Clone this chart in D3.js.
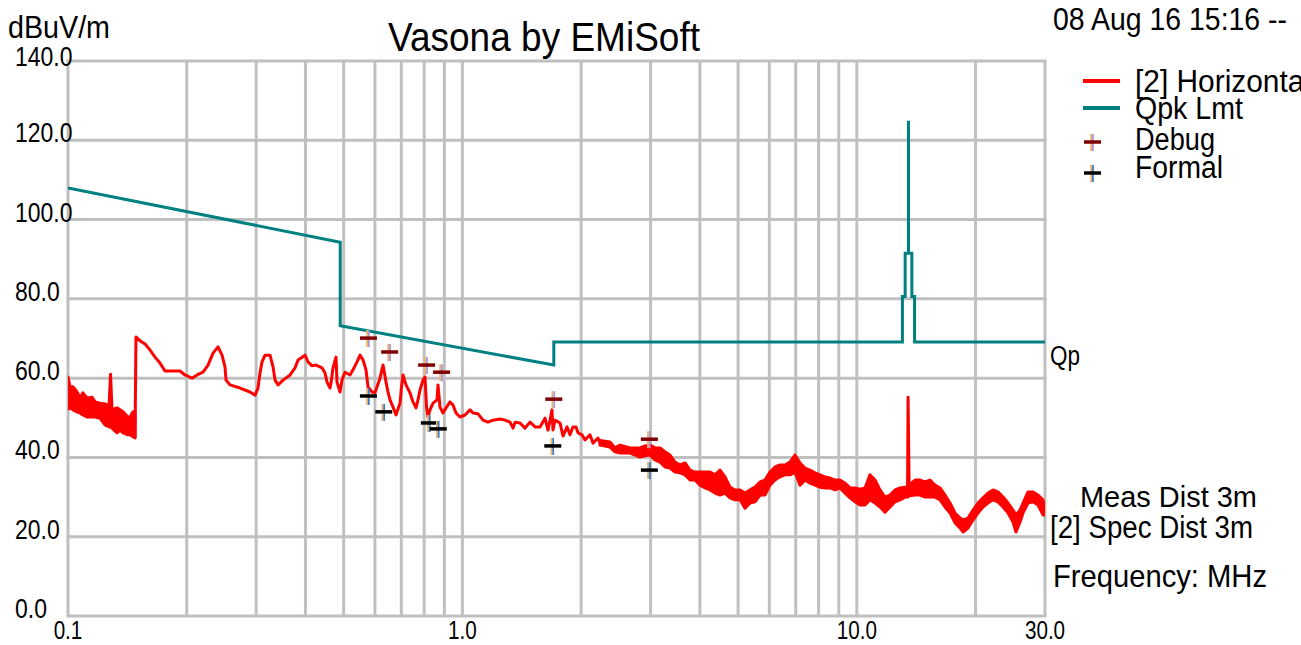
<!DOCTYPE html>
<html lang="en">
<head>
<meta charset="UTF-8" />
<title>Vasona by EMiSoft</title>
<script src="https://d3js.org/d3.v7.min.js"></script>
<style>
  * { margin: 0; padding: 0; }
  body { background: #fff; overflow: hidden; }
  svg { display: block; font-family: 'Liberation Sans', Arial, sans-serif; }
</style>
</head>
<body>
<svg id="chart" width="1301" height="645"></svg>
<script>
  // ---- data (MHz / dBuV/m) ----
  // 0.10 - 0.148 MHz : dense noise band, upper and lower envelope
  const lowBandFreq = [0.100, 0.1012, 0.1030, 0.1054, 0.1073, 0.1091, 0.1117, 0.1150, 0.1171, 0.1205,
                       0.1241, 0.1271, 0.1282, 0.1293, 0.1331, 0.1355, 0.1379, 0.1419, 0.1436, 0.1462,
                       0.1479];
  const lowBandHi = [60.3, 57.8, 57.8, 56.5, 55.0, 56.3, 55.0, 55.2, 54.0, 53.7,
                     53.5, 53.0, 61.0, 52.0, 52.5, 52.0, 51.5, 50.2, 50.2, 51.5,
                     51.5];
  const lowBandLo = [52.2, 52.5, 52.0, 51.5, 51.2, 50.7, 50.2, 50.2, 50.2, 49.9,
                     48.2, 47.7, 47.7, 47.4, 46.2, 46.9, 46.2, 45.7, 45.7, 45.2,
                     44.9];

  // 0.148 - 2.2 MHz : single trace
  const midFreq = [0.1479, 0.1487, 0.1523, 0.1568, 0.1614, 0.1662, 0.1711, 0.1762, 0.1923, 0.1980,
                   0.2063, 0.2124, 0.2199, 0.2265, 0.2332, 0.2401, 0.2458, 0.2501, 0.2516, 0.2575,
                   0.2730, 0.2894, 0.2980, 0.3032, 0.3068, 0.3104, 0.3159, 0.3253, 0.3311, 0.3349,
                   0.3409, 0.3510, 0.3656, 0.3765, 0.3831, 0.3990, 0.4060, 0.4156, 0.4255, 0.4406,
                   0.4484, 0.4537, 0.4617, 0.4644, 0.4698, 0.4781, 0.4809, 0.4894, 0.4951, 0.5039,
                   0.5188, 0.5280, 0.5405, 0.5500, 0.5598, 0.5696, 0.5763, 0.5899, 0.6003, 0.6181,
                   0.6291, 0.6402, 0.6477, 0.6553, 0.6669, 0.6787, 0.6947, 0.7008, 0.7070, 0.7194,
                   0.7365, 0.7494, 0.7627, 0.7716, 0.7807, 0.7945, 0.8039, 0.8110, 0.8181, 0.8276,
                   0.8423, 0.8622, 0.8673, 0.8775, 0.8930, 0.9088, 0.9302, 0.9467, 0.9634, 0.9860,
                   1.0153, 1.0454, 1.0638, 1.0955, 1.128, 1.161, 1.196, 1.245, 1.282, 1.320,
                   1.344, 1.360, 1.400, 1.441, 1.484, 1.528, 1.573, 1.620, 1.648, 1.668,
                   1.687, 1.697, 1.717, 1.768, 1.799, 1.842, 1.874, 1.907, 1.941, 1.964,
                   2.010, 2.046, 2.106, 2.144, 2.207, 2.233];
  const midLevel = [44.9, 70.4, 69.4, 68.6, 67.1, 65.3, 63.8, 61.8, 61.8, 60.8,
                    60.0, 60.8, 61.5, 63.3, 66.3, 67.9, 65.8, 62.8, 59.5, 58.3,
                    57.5, 56.5, 55.7, 57.5, 61.3, 64.1, 65.8, 65.8, 62.8, 59.5,
                    58.3, 59.5, 60.8, 62.6, 64.6, 65.8, 64.1, 63.1, 63.3, 62.6,
                    61.3, 59.0, 57.5, 58.8, 62.6, 65.3, 59.0, 56.5, 59.5, 61.5,
                    60.8, 62.1, 64.1, 65.8, 64.6, 62.1, 57.8, 56.5, 56.3, 60.0,
                    63.3, 59.0, 56.5, 54.5, 52.7, 50.7, 53.7, 57.8, 60.8, 58.3,
                    56.3, 54.0, 52.5, 54.5, 57.0, 59.5, 60.3, 52.7, 50.2, 52.0,
                    53.7, 54.5, 58.3, 52.7, 51.2, 52.5, 54.0, 53.2, 51.2, 50.2,
                    50.7, 52.0, 51.2, 51.0, 49.4, 48.9, 49.4, 49.7, 49.4, 48.9,
                    47.4, 48.9, 48.7, 47.4, 48.9, 47.7, 47.7, 49.9, 46.9, 49.4,
                    52.0, 46.9, 49.4, 48.7, 45.4, 47.7, 45.7, 47.7, 47.7, 46.2,
                    45.7, 44.4, 45.7, 43.6, 44.9, 43.6];

  // 2.2 - 30 MHz : noise band, upper and lower envelope
  const highBandFreq = [2.233, 2.367, 2.437, 2.509, 2.661, 2.820, 2.904, 2.991, 3.078, 3.170,
                        3.264, 3.360, 3.460, 3.563, 3.668, 3.777, 3.889, 4.004, 4.122, 4.245,
                        4.370, 4.499, 4.633, 4.770, 4.911, 5.057, 5.206, 5.360, 5.519, 5.683,
                        5.850, 6.024, 6.202, 6.387, 6.575, 6.770, 6.970, 7.178, 7.389, 7.608,
                        7.834, 8.066, 8.306, 8.551, 8.805, 9.065, 9.335, 9.612, 9.894, 10.19,
                        10.49, 10.80, 11.12, 11.45, 11.79, 12.14, 12.50, 12.87, 13.25, 13.45,
                        13.49, 13.57, 14.05, 14.46, 14.89, 15.33, 15.79, 16.26, 16.73, 17.23,
                        17.74, 18.27, 18.59, 19.14, 19.71, 20.29, 20.89, 21.51, 22.15, 22.80,
                        23.48, 24.18, 24.89, 25.33, 25.93, 26.39, 27.17, 27.97, 28.80, 29.65,
                        30.0];
  const highBandHi = [44.3, 43.9, 42.4, 43.1, 42.4, 42.4, 42.9, 43.1, 42.4, 42.4,
                      41.4, 40.6, 38.8, 38.1, 38.6, 36.8, 36.3, 36.3, 36.3, 36.3,
                      35.6, 36.8, 35.1, 32.5, 31.8, 31.8, 31.0, 31.8, 32.5, 33.8,
                      34.3, 36.3, 37.6, 38.1, 38.1, 38.8, 40.6, 38.6, 37.3, 36.8,
                      36.1, 35.6, 35.1, 34.8, 34.3, 34.3, 33.5, 32.3, 32.3, 32.0,
                      32.3, 35.6, 34.3, 31.8, 30.0, 30.5, 31.8, 32.3, 32.5, 32.5,
                      55.2, 33.0, 34.3, 34.3, 33.8, 34.3, 33.0, 32.3, 30.5, 28.5,
                      26.0, 24.7, 24.2, 24.7, 26.7, 28.5, 29.8, 31.0, 31.8, 31.3,
                      30.0, 28.5, 26.7, 25.5, 26.7, 28.5, 31.3, 31.3, 30.5, 29.3,
                      27.5];
  const highBandLo = [43.1, 42.6, 41.4, 41.1, 41.1, 40.1, 40.4, 40.6, 39.4, 38.8,
                      37.6, 37.3, 36.3, 36.1, 35.6, 34.3, 34.3, 33.0, 32.3, 31.8,
                      31.0, 30.5, 31.0, 29.8, 29.3, 29.3, 27.2, 28.5, 28.8, 30.5,
                      30.5, 33.0, 34.3, 35.1, 35.6, 35.6, 36.3, 33.0, 34.3, 33.5,
                      33.0, 32.5, 32.3, 32.3, 31.8, 32.3, 31.0, 29.8, 28.8, 28.0,
                      28.0, 29.3, 28.5, 27.5, 26.2, 27.5, 28.8, 29.3, 30.0, 30.0,
                      30.0, 30.3, 30.5, 30.5, 30.0, 30.0, 30.0, 29.3, 27.5, 26.0,
                      23.5, 22.2, 21.2, 22.2, 24.2, 26.0, 27.5, 28.5, 29.3, 28.8,
                      27.5, 26.0, 23.7, 21.2, 23.7, 26.0, 28.5, 28.8, 28.0, 25.5,
                      25.5];

  // quasi-peak limit
  const limitFreq = [0.1, 0.49, 0.49, 1.705, 1.705, 13.05, 13.05, 13.26, 13.26, 13.52, 13.52, 13.52, 13.79, 13.79, 14.01, 14.01, 30];
  const limitLevel = [108.0, 94.3, 73.2, 63.3, 69.1, 69.1, 80.6, 80.6, 91.5, 91.5, 124.9, 91.5, 91.5, 80.6, 80.6, 69.1, 69.1];

  // marker readings
  const debugFreq = [0.576, 0.652, 0.809, 0.883, 1.70, 2.97];
  const debugLevel = [70.1, 66.6, 63.3, 61.5, 54.7, 44.6];
  const formalFreq = [0.576, 0.63, 0.822, 0.866, 1.69, 2.97];
  const formalLevel = [55.5, 51.5, 48.7, 47.2, 42.9, 36.8];

  // axes
  const xGrid = [0.1, 0.2, 0.3, 0.4, 0.5, 0.6, 0.7, 0.8, 0.9, 1, 2, 3, 4, 5, 6, 7, 8, 9, 10, 20, 30];
  const xTicks = [0.1, 1, 10, 30];
  const xTickLabels = ['0.1', '1.0', '10.0', '30.0'];
  const yTicks = [0, 20, 40, 60, 80, 100, 120, 140];

  const legendNames = ['[2] Horizontal', 'Qpk Lmt', 'Debug', 'Formal'];

  // ---- drawing ----
  const svg = d3.select('#chart');
  const plot = { left: 68, right: 1045, top: 61, bottom: 616 };
  const x = d3.scaleLog().domain([0.1, 30]).range([plot.left, plot.right]);
  const y = d3.scaleLinear().domain([0, 140]).range([plot.bottom, plot.top]);

  const RED = '#ff0000', TEAL = '#008080', GRID = '#c0c0c0';

  svg.append('rect').attr('width', 1301).attr('height', 645).attr('fill', '#fff');

  svg.append('clipPath').attr('id', 'plotclip')
    .append('rect')
    .attr('x', plot.left).attr('y', plot.top - 2)
    .attr('width', plot.right - plot.left).attr('height', plot.bottom - plot.top + 2);

  // grid
  const grid = svg.append('g').attr('stroke', GRID).attr('stroke-width', 3);
  grid.selectAll('.vg').data(xGrid).enter().append('line')
    .attr('x1', d => x(d)).attr('x2', d => x(d))
    .attr('y1', plot.top).attr('y2', plot.bottom);
  grid.selectAll('.hg').data(yTicks).enter().append('line')
    .attr('x1', plot.left - 1.5).attr('x2', plot.right + 1.5)
    .attr('y1', d => y(d)).attr('y2', d => y(d));

  // tick labels (squeezed horizontally like the original)
  const fmt = d3.format('.1f');
  svg.append('g').selectAll('text').data(yTicks).enter().append('text')
    .attr('transform', d => `translate(15,${Math.max(y(d) + 2, 66)}) scale(0.82,1)`)
    .attr('font-size', 28).attr('fill', '#000')
    .text(d => fmt(d));

  svg.append('g').selectAll('text').data(xTicks).enter().append('text')
    .attr('transform', d => `translate(${x(d)},639) scale(0.78,1)`)
    .attr('text-anchor', 'middle')
    .attr('font-size', 26.5).attr('fill', '#000')
    .text((d, i) => xTickLabels[i]);

  // limit line
  const traces = svg.append('g').attr('clip-path', 'url(#plotclip)');
  const limitLine = d3.line().x(i => x(limitFreq[i])).y(i => y(limitLevel[i]));
  traces.append('path')
    .attr('d', limitLine(d3.range(limitFreq.length)))
    .attr('fill', 'none').attr('stroke', TEAL).attr('stroke-width', 3);

  // measurement trace
  function band(freq, hi, lo) {
    const area = d3.area()
      .x(i => x(freq[i]))
      .y0(i => y(lo[i]))
      .y1(i => y(hi[i]));
    traces.append('path')
      .attr('d', area(d3.range(freq.length)))
      .attr('fill', RED).attr('stroke', RED)
      .attr('stroke-width', 3).attr('stroke-linejoin', 'round');
  }
  band(lowBandFreq, lowBandHi, lowBandLo);
  band(highBandFreq, highBandHi, highBandLo);

  const midLine = d3.line().x(i => x(midFreq[i])).y(i => y(midLevel[i]));
  traces.append('path')
    .attr('d', midLine(d3.range(midFreq.length)))
    .attr('fill', 'none').attr('stroke', RED)
    .attr('stroke-width', 3).attr('stroke-linejoin', 'round');

  // plus markers
  function plus(g, cx, cy, bar, left, right) {
    g.append('line').attr('x1', cx - 0.9).attr('x2', cx - 0.9).attr('y1', cy - 8).attr('y2', cy + 9)
      .attr('stroke', left).attr('stroke-width', 1.8);
    g.append('line').attr('x1', cx + 0.9).attr('x2', cx + 0.9).attr('y1', cy - 8).attr('y2', cy + 9)
      .attr('stroke', right).attr('stroke-width', 1.8);
    g.append('line').attr('x1', cx - 8).attr('x2', cx + 9).attr('y1', cy).attr('y2', cy)
      .attr('stroke', bar).attr('stroke-width', 3.5);
  }
  const marks = svg.append('g');
  debugFreq.forEach((f, i) => plus(marks, x(f), y(debugLevel[i]), '#800000', '#f5b26b', '#a898d8'));
  formalFreq.forEach((f, i) => plus(marks, x(f), y(formalLevel[i]), '#000000', '#f5b26b', '#3a7cc4'));

  // texts
  function txt(str, tx, ty, size, width) {
    const t = svg.append('text')
      .attr('x', tx).attr('y', ty)
      .attr('font-size', size).attr('fill', '#000')
      .text(str);
    if (width) t.attr('textLength', width).attr('lengthAdjust', 'spacingAndGlyphs');
    return t;
  }

  txt('dBuV/m', 8, 38, 31, 102);
  txt('Vasona by EMiSoft', 388, 51, 41, 312);
  txt('08 Aug 16 15:16 --', 1053, 30, 32, 234);

  // legend
  const legend = svg.append('g');
  legend.append('line').attr('x1', 1083).attr('x2', 1120).attr('y1', 81).attr('y2', 81)
    .attr('stroke', RED).attr('stroke-width', 4);
  legend.append('line').attr('x1', 1083).attr('x2', 1120).attr('y1', 108).attr('y2', 108)
    .attr('stroke', TEAL).attr('stroke-width', 4);
  plus(legend, 1092, 142, '#800000', '#f5b26b', '#a898d8');
  plus(legend, 1092, 173, '#000000', '#f5b26b', '#3a7cc4');

  txt(legendNames[0], 1135, 92, 31, 176);
  txt(legendNames[1], 1135, 119, 31, 108);
  txt(legendNames[2], 1135, 150, 31, 80);
  txt(legendNames[3], 1135, 178, 31, 88);

  txt('Qp', 1050, 365, 27, 30);
  txt('Meas Dist 3m', 1080, 507, 29, 177);
  txt('[2] Spec Dist 3m', 1050, 538, 31, 203);
  txt('Frequency: MHz', 1053, 587, 32, 214);
</script>
</body>
</html>
